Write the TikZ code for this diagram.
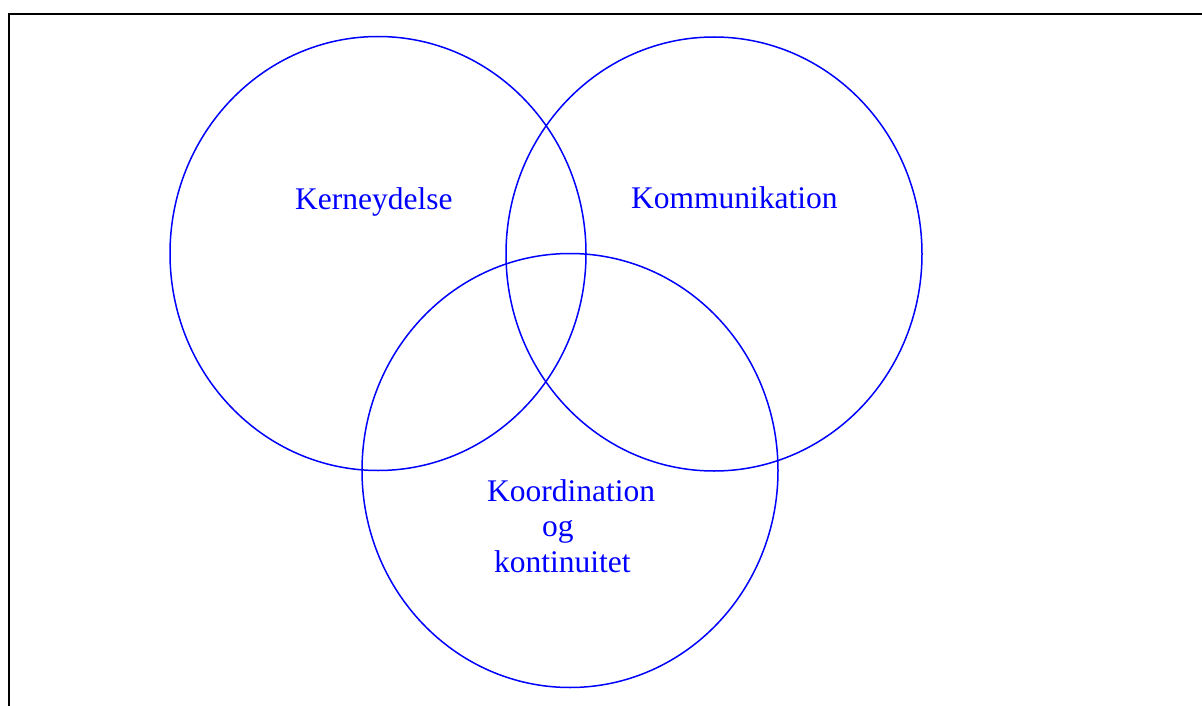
\documentclass[tikz,border=0pt]{standalone}
\usepackage{fontspec}
\setmainfont{Liberation Serif}
\begin{document}
\begin{tikzpicture}[x=1pt,y=-1pt,
  ring/.style={draw=blue,line width=1.5pt},
  lbl/.style={text=blue,inner sep=0pt,anchor=base west,font=\fontsize{31.5}{36}\selectfont}]
\useasboundingbox (0,0) rectangle (1202,706);
\begin{scope}
\clip (0,0) rectangle (1202,706);
\draw[line width=2.2pt] (9,14) rectangle (1230,740);
\end{scope}
% three overlapping areas
\draw[ring] (378,253.5) ellipse [x radius=208, y radius=217];
\draw[ring] (714,254) ellipse [x radius=208, y radius=217];
\draw[ring] (570,470.5) ellipse [x radius=208, y radius=217];
% labels
\node[lbl] (kerne) at (295,209) {Kerneydelse};
\node[lbl] (komm) at (631,208) {Kommunikation};
\node[lbl] (koord) at (487,501) {Koordination};
\node[lbl] (og) at (542,536) {og};
\node[lbl] (kont) at (494,572) {kontinuitet};
\end{tikzpicture}
\end{document}
